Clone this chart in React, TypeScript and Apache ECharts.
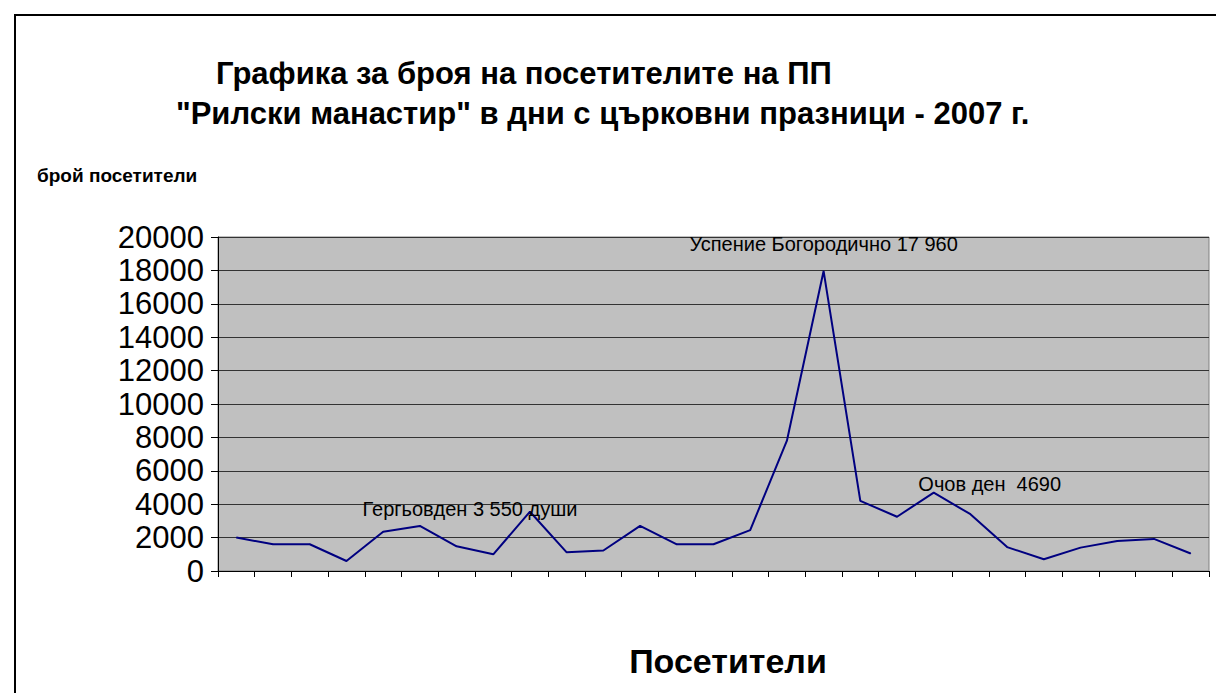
import React, { useEffect, useRef } from "react";
import * as echarts from "echarts";

const categories: string[] = Array.from({ length: 27 }, (_, i) => String(i + 1));
const visitors: number[] = [
  2000, 1600, 1600, 600, 2350, 2700, 1480, 1000, 3550, 1120, 1230, 2700, 1600, 1600,
  2450, 7800, 17960, 4200, 3250, 4690, 3400, 1430, 700, 1400, 1800, 1920, 1050,
];
const yTicks = { min: 0, max: 20000, interval: 2000 };
const notes: { index: number; text: string; offset: [number, number] }[] = [
  { index: 8, text: "Гергьовден 3 550 души", offset: [-60, -3] },
  { index: 16, text: "Успение Богородично 17 960", offset: [0, -27] },
  { index: 19, text: "Очов ден  4690", offset: [56, -9] },
];
const titleLines = [
  "Графика за броя на посетителите на ПП",
  "\"Рилски манастир\" в дни с църковни празници - 2007 г.",
];
const yName = "брой посетители";
const xName = "Посетители";

const FONT = "'Liberation Sans', Arial, sans-serif";

export default function App() {
  const ref = useRef<HTMLDivElement>(null);
  useEffect(() => {
    if (!ref.current) return;
    const chart = echarts.init(ref.current, null, { renderer: "svg" });
    const data = visitors.map((v, i) => {
      const n = notes.find((x) => x.index === i);
      if (!n) return v;
      return {
        value: v,
        label: {
          show: true,
          position: "inside",
          formatter: n.text,
          offset: n.offset,
          fontSize: 20,
          fontFamily: FONT,
          color: "#000",
        },
      };
    });
    chart.setOption({
      animation: false,
      backgroundColor: "#fff",
      grid: {
        left: 218,
        top: 237,
        right: 7,
        bottom: 122,
        show: true,
        backgroundColor: "#C0C0C0",
        borderColor: "#808080",
        borderWidth: 1,
      },
      xAxis: {
        type: "category",
        data: categories,
        boundaryGap: true,
        axisLine: { show: true, lineStyle: { color: "#000", width: 1 } },
        axisTick: { show: true, length: 6, lineStyle: { color: "#000" } },
        axisLabel: { show: false },
        splitLine: { show: false },
      },
      yAxis: {
        type: "value",
        min: yTicks.min,
        max: yTicks.max,
        interval: yTicks.interval,
        axisLine: { show: true, lineStyle: { color: "#000", width: 1 } },
        axisTick: { show: true, length: 7, lineStyle: { color: "#000" } },
        axisLabel: {
          fontSize: 31,
          fontFamily: FONT,
          color: "#000",
          margin: 14,
          formatter: (v: number) => String(v),
        },
        splitLine: { show: true, lineStyle: { color: "#333", width: 1 } },
      },
      series: [
        {
          type: "line",
          data,
          symbol: "circle",
          symbolSize: 1,
          showSymbol: true,
          itemStyle: { color: "#000080" },
          lineStyle: { color: "#000080", width: 2 },
          label: { show: false },
          emphasis: { disabled: true },
        },
      ],
      graphic: [
        {
          type: "rect",
          shape: { x: 15, y: 15, width: 1230, height: 720 },
          style: { fill: "none", stroke: "#000", lineWidth: 2 },
          silent: true,
        },
        {
          type: "text",
          x: 216,
          y: 73,
          style: {
            text: titleLines[0],
            font: `bold 31px ${FONT}`,
            fill: "#000",
            textVerticalAlign: "middle",
          },
        },
        {
          type: "text",
          x: 176,
          y: 113,
          style: {
            text: titleLines[1],
            font: `bold 31px ${FONT}`,
            fill: "#000",
            textVerticalAlign: "middle",
          },
        },
        {
          type: "text",
          x: 37,
          y: 175,
          style: {
            text: yName,
            font: `bold 19px ${FONT}`,
            fill: "#000",
            textVerticalAlign: "middle",
          },
        },
        {
          type: "text",
          x: 728,
          y: 661,
          style: {
            text: xName,
            font: `bold 34px ${FONT}`,
            fill: "#000",
            textAlign: "center",
            textVerticalAlign: "middle",
          },
        },
      ],
    });
    return () => chart.dispose();
  }, []);
  return (
    <div
      ref={ref}
      style={{ position: "fixed", left: 0, top: 0, width: 1216, height: 693 }}
    />
  );
}
